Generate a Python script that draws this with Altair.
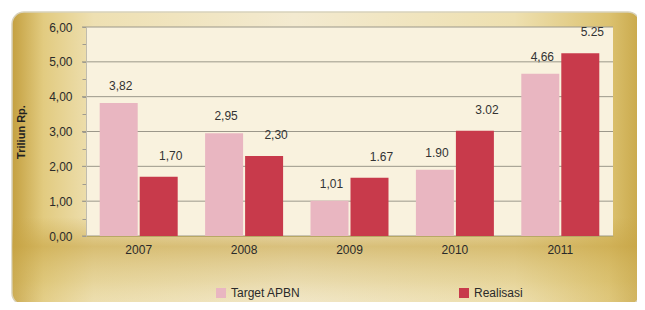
import altair as alt
import pandas as pd

years = ["2007", "2008", "2009", "2010", "2011"]
series = ["Target APBN", "Realisasi"]
target = [3.82, 2.95, 1.01, 1.90, 4.66]
realisasi = [1.70, 2.30, 1.67, 3.02, 5.25]
target_labels = ["3,82", "2,95", "1,01", "1.90", "4,66"]
realisasi_labels = ["1,70", "2,30", "1.67", "3.02", "5.25"]
y_ticks = [0, 1, 2, 3, 4, 5, 6]
y_minor = [0, 0.5, 1, 1.5, 2, 2.5, 3, 3.5, 4, 4.5, 5, 5.5, 6]
colors = ["#e9b6c1", "#c83a4b"]

rows = []
for i, y in enumerate(years):
    rows.append({"year": y, "series": series[0], "value": target[i], "label": target_labels[i]})
    rows.append({"year": y, "series": series[1], "value": realisasi[i], "label": realisasi_labels[i]})
df = pd.DataFrame(rows)
grid_df = pd.DataFrame({"v": y_ticks})

W, H = 527, 209
FONT = "Liberation Sans"

x_enc = alt.X("year:N", sort=years,
              scale=alt.Scale(paddingInner=0.26, paddingOuter=0.13),
              axis=alt.Axis(title=None, orient="bottom", labelFont=FONT, labelFontSize=12,
                            labelColor="#2a2a2a", labelPadding=8, ticks=False,
                            domainColor="#b8a865", labelAngle=0, zindex=1))
x_plain = alt.X("year:N", sort=years, axis=None)
xoff = alt.XOffset("series:N", sort=series, scale=alt.Scale(paddingInner=0.05))
y_scale = alt.Scale(domain=[0, 6], nice=False)

frame = alt.Chart(alt.Data(values=[{}])).mark_rect(
    cornerRadius=12,
    stroke="#d8d2bc", strokeWidth=1.5,
    color=alt.Gradient(
        gradient="linear", x1=0, x2=1, y1=0, y2=0,
        stops=[
            alt.GradientStop(color="#c4a040", offset=0),
            alt.GradientStop(color="#e2cb80", offset=0.05),
            alt.GradientStop(color="#eee0b2", offset=0.13),
            alt.GradientStop(color="#f3ead0", offset=0.45),
            alt.GradientStop(color="#eee0b0", offset=0.8),
            alt.GradientStop(color="#dcc270", offset=0.95),
            alt.GradientStop(color="#c9a84a", offset=1),
        ],
    ),
).encode(x=alt.value(-74), x2=alt.value(554), y=alt.value(-15), y2=alt.value(278))

shade = alt.Chart(alt.Data(values=[{}])).mark_rect(
    cornerRadius=12,
    color=alt.Gradient(
        gradient="linear", x1=0, x2=0, y1=0, y2=1,
        stops=[
            alt.GradientStop(color="rgba(200,165,70,0)", offset=0.7),
            alt.GradientStop(color="rgba(200,165,70,0.6)", offset=0.8),
            alt.GradientStop(color="rgba(215,190,110,0.35)", offset=0.92),
            alt.GradientStop(color="rgba(235,220,170,0.2)", offset=1),
        ],
    ),
).encode(x=alt.value(-74), x2=alt.value(554), y=alt.value(-15), y2=alt.value(278))

plotbg = alt.Chart(alt.Data(values=[{}])).mark_rect(color="#f9f2de").encode(
    x=alt.value(0), x2=alt.value(W), y=alt.value(0), y2=alt.value(H)
)

grid = alt.Chart(grid_df).mark_rule(color="#9c988a", strokeWidth=1).encode(
    y=alt.Y("v:Q", scale=y_scale, axis=None),
    x=alt.value(-4), x2=alt.value(W),
)

bars = alt.Chart(df).mark_bar(strokeWidth=0).encode(
    x=x_enc,
    xOffset=xoff,
    y=alt.Y("value:Q", scale=y_scale,
            axis=alt.Axis(title="Triliun Rp.", orient="left", values=y_minor, labelOverlap=False,
                          labelExpr="datum.value % 1 == 0 ? replace(format(datum.value, '.2f'), '.', ',') : ''",
                          labelFont=FONT, labelFontSize=12, labelColor="#2a2a2a", labelPadding=10,
                          tickSize=4, tickColor="#a09c90", domainColor="#c0bcae", grid=False,
                          titleFont=FONT, titleFontSize=11, titleFontWeight="bold", titleColor="#222",
                          titlePadding=22, zindex=1)),
    color=alt.Color("series:N", sort=series, scale=alt.Scale(domain=series, range=colors),
                    legend=alt.Legend(title=None, orient="none", legendX=129, legendY=260,
                                      direction="horizontal", symbolType="square", symbolSize=100,
                                      symbolStrokeWidth=0, labelFont=FONT, labelFontSize=12,
                                      labelColor="#2a2a2a", columnPadding=157, labelOffset=4)),
)

text_t = alt.Chart(df).transform_filter(alt.datum.series == series[0]).mark_text(
    font=FONT, fontSize=12, color="#333", dy=-17, dx=2
).encode(x=x_plain, xOffset=xoff, y=alt.Y("value:Q", scale=y_scale, axis=None), text="label:N")

text_r = alt.Chart(df).transform_filter(alt.datum.series == series[1]).mark_text(
    font=FONT, fontSize=12, color="#333", dy=-21, dx=12
).encode(x=x_plain, xOffset=xoff, y=alt.Y("value:Q", scale=y_scale, axis=None), text="label:N")

chart = alt.layer(frame, shade, plotbg, grid, bars, text_t, text_r).resolve_axis(
    x="independent", y="independent"
).properties(
    width=W, height=H,
    autosize=alt.AutoSizeParams(type="none"),
    padding={"left": 78, "top": 19, "right": 24, "bottom": 66},
    background="white",
).configure_view(stroke=None)

chart.save("out.html", embed_options={"renderer": "svg", "actions": False})
